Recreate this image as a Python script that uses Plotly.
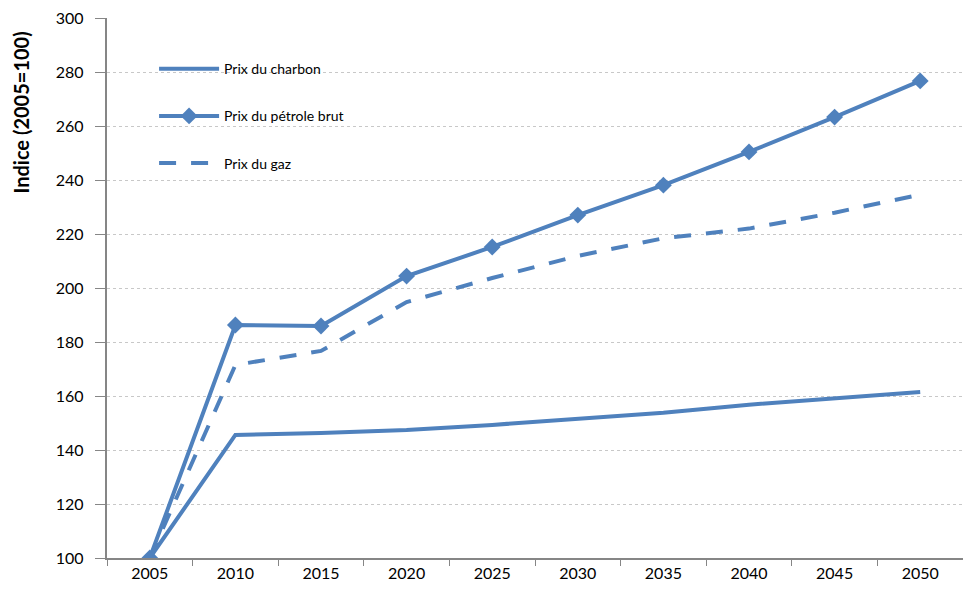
import plotly.graph_objects as go

years = ["2005", "2010", "2015", "2020", "2025", "2030", "2035", "2040", "2045", "2050"]
charbon = [100, 145.6, 146.3, 147.4, 149.3, 151.5, 153.8, 156.8, 159.0, 161.5]
petrole = [100, 186.3, 185.9, 204.4, 215.2, 227.0, 238.1, 250.4, 263.3, 276.7]
gaz = [100, 171.5, 176.7, 194.8, 203.7, 211.9, 218.4, 222.0, 227.9, 234.6]
y_title = "<b>Indice (2005=100)</b>"

color = "#4F81BD"
font = "Lato, 'Open Sans', sans-serif"

fig = go.Figure()
fig.add_trace(go.Scatter(x=years, y=charbon, name="Prix du charbon", mode="lines",
                         line=dict(color=color, width=4), legendgroup="a"))
fig.add_trace(go.Scatter(x=years, y=petrole, name="Prix du pétrole brut", mode="lines+markers",
                         line=dict(color=color, width=4),
                         marker=dict(symbol="diamond", size=13, color=color), legendgroup="b"))
fig.add_trace(go.Scatter(x=years, y=gaz, name="Prix du gaz", mode="lines",
                         line=dict(color=color, width=4, dash="17px,15px"), legendgroup="c"))

fig.add_annotation(text=y_title, xref="paper", yref="paper", x=-0.101, y=0.824,
                   xanchor="center", yanchor="middle", textangle=-90, showarrow=False,
                   font=dict(size=20, family=font, color="#000000"))

fig.update_layout(
    width=963, height=597,
    margin=dict(l=107, r=0, t=18, b=39),
    plot_bgcolor="white", paper_bgcolor="white",
    font=dict(family=font, size=14, color="#000000"),
    showlegend=True,
    legend=dict(x=0.055, y=0.935, xanchor="left", yanchor="top",
                bgcolor="rgba(0,0,0,0)", font=dict(size=14),
                tracegroupgap=26, itemwidth=60),
    xaxis=dict(type="category", tickson="boundaries", ticks="outside", ticklen=6,
               tickcolor="#868686", showline=True, linecolor="#868686", linewidth=2,
               showgrid=False, tickfont=dict(size=16), range=[-0.5, 9.5]),
    yaxis=dict(range=[100, 300], dtick=20, ticks="outside", ticklen=10,
               tickcolor="#868686", showline=True, linecolor="#868686", linewidth=2,
               showgrid=True, gridcolor="#C8C8C8", griddash="dot", gridwidth=1,
               zeroline=False, tickfont=dict(size=16), ticksuffix="\u00a0\u00a0"),
)

fig.write_html("out.html")
